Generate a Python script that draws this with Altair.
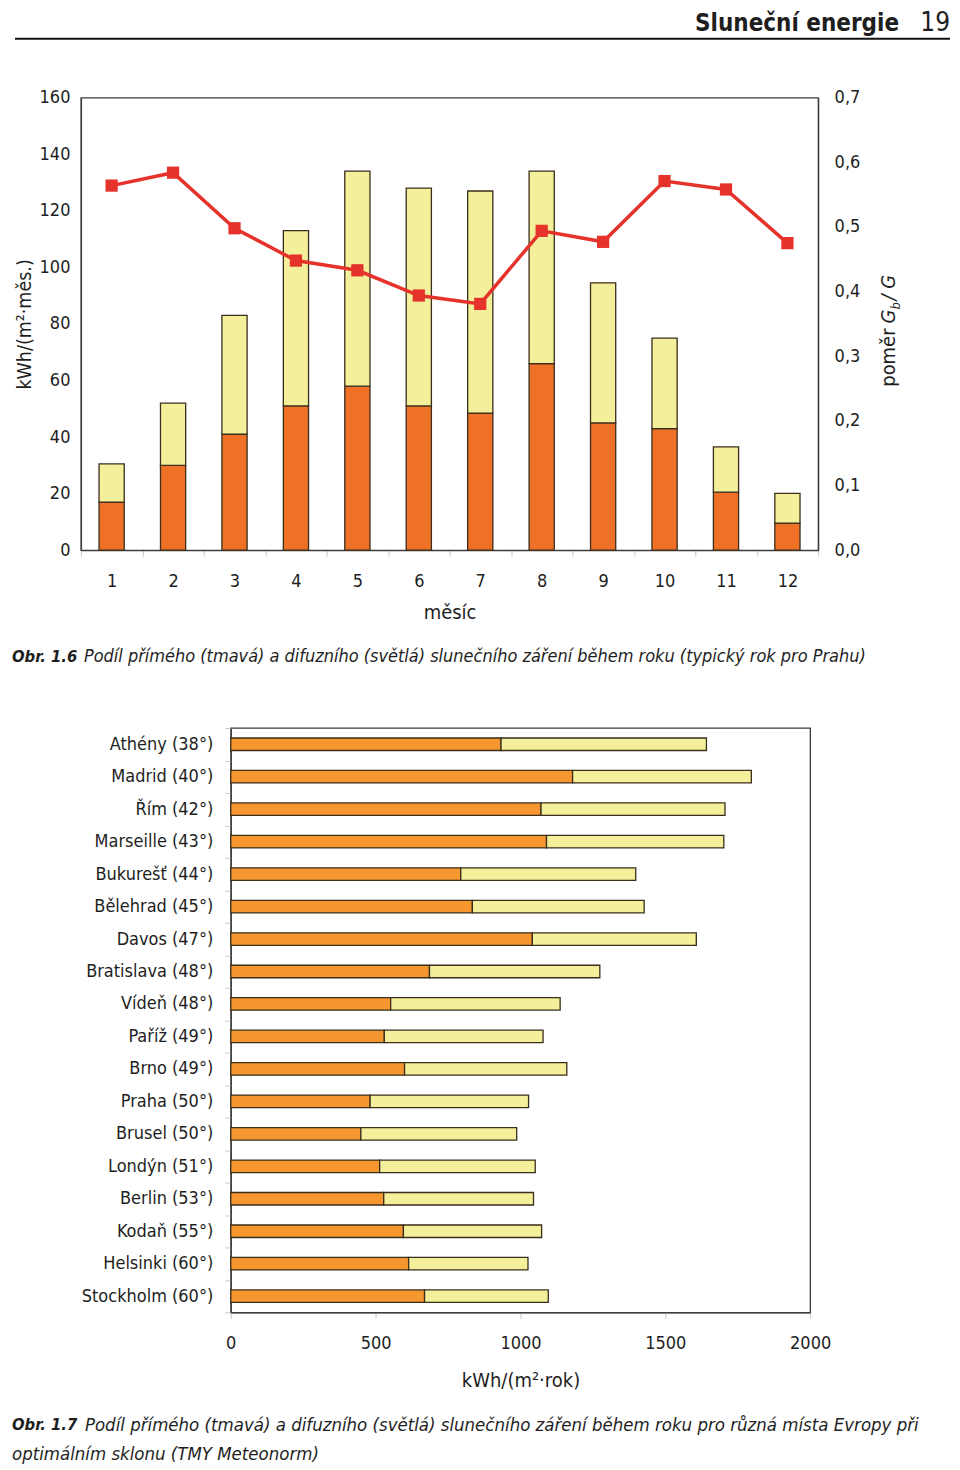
import altair as alt
import pandas as pd

# ---------- data: Obr. 1.6 (typical year, Prague) ----------
months = [1, 2, 3, 4, 5, 6, 7, 8, 9, 10, 11, 12]
direct_month = [17.0, 30.0, 41.0, 51.0, 58.0, 51.0, 48.5, 66.0, 45.0, 43.0, 20.5, 9.6]
diffuse_month = [13.5, 22.0, 42.0, 62.0, 76.0, 77.0, 78.5, 68.0, 49.5, 32.0, 16.0, 10.5]
ratio_month = [0.564, 0.584, 0.498, 0.448, 0.433, 0.394, 0.381, 0.494, 0.477, 0.571, 0.558, 0.475]
left_ticks = [0, 20, 40, 60, 80, 100, 120, 140, 160]
right_ticks = [0.0, 0.1, 0.2, 0.3, 0.4, 0.5, 0.6, 0.7]

# ---------- data: Obr. 1.7 (European cities) ----------
cities = ["Athény (38°)", "Madrid (40°)", "Řím (42°)", "Marseille (43°)", "Bukurešť (44°)",
          "Bělehrad (45°)", "Davos (47°)", "Bratislava (48°)", "Vídeň (48°)", "Paříž (49°)",
          "Brno (49°)", "Praha (50°)", "Brusel (50°)", "Londýn (51°)", "Berlin (53°)",
          "Kodaň (55°)", "Helsinki (60°)", "Stockholm (60°)"]
direct_city = [933, 1180, 1071, 1090, 794, 834, 1041, 686, 552, 530, 600, 481, 449, 514, 528, 596, 614, 669]
diffuse_city = [709, 617, 635, 612, 604, 593, 566, 588, 585, 548, 560, 547, 538, 537, 517, 477, 412, 427]
bottom_ticks = [0, 500, 1000, 1500, 2000]

FONT = "DejaVu Sans Condensed, Liberation Sans, sans-serif"
ORANGE_TOP = "#EF7027"
ORANGE_BOT = "#F5962F"
YELLOW = "#F4EF9B"
RED = "#E5322B"
EDGE = "#3a2e1c"
TXT = "#1e1e1e"

top_df = pd.DataFrame({"month": months, "direct": direct_month,
                       "diffuse": diffuse_month, "ratio": ratio_month})
top_df["total"] = top_df["direct"] + top_df["diffuse"]

bot_df = pd.DataFrame({"city": cities, "direct": direct_city, "diffuse": diffuse_city})
bot_df["total"] = bot_df["direct"] + bot_df["diffuse"]

one = pd.DataFrame({"k": [0]})


def txt(text, x, y, size=20, weight="normal", style="normal", align="left",
        baseline="middle", angle=0, color=TXT):
    kw = dict(text=text, fontSize=size, fontWeight=weight, fontStyle=style, align=align,
              baseline=baseline, font=FONT, color=color)
    if angle:
        kw["angle"] = angle
    return alt.Chart(one).mark_text(**kw).encode(x=alt.value(x), y=alt.value(y))


# ---------------- top chart ----------------
TW, TH = 738, 453
x_top = alt.X("month:O", scale=alt.Scale(paddingInner=0, paddingOuter=0),
              axis=alt.Axis(title="měsíc", labelAngle=0, tickBand="extent", tickSize=6,
                            tickColor="#c8c8c8", labelPadding=16, titlePadding=12,
                            titleFontWeight="normal", titleFontSize=20))


def y_left(field):
    return alt.Y(f"{field}:Q", scale=alt.Scale(domain=[0, 160], nice=False),
                 axis=alt.Axis(values=left_ticks, title="kWh/(m²·měs.)", ticks=False, grid=False,
                               labelPadding=11, titlePadding=5, titleFontWeight="normal",
                               titleFontSize=19.5))


bar_direct = alt.Chart(top_df).mark_bar(
    width=alt.RelativeBandSize(0.41), color=ORANGE_TOP, stroke=EDGE, strokeWidth=1.3
).encode(x=x_top, y=y_left("direct"))
bar_diffuse = alt.Chart(top_df).mark_bar(
    width=alt.RelativeBandSize(0.41), color=YELLOW, stroke=EDGE, strokeWidth=1.3
).encode(x=x_top, y=y_left("total"), y2="direct")
bars = alt.layer(bar_direct, bar_diffuse)

y_right = alt.Y("ratio:Q", scale=alt.Scale(domain=[0, 0.7], nice=False),
                axis=alt.Axis(orient="right", values=right_ticks, title=None, ticks=False,
                              grid=False, labelPadding=16,
                              labelExpr="replace(format(datum.value, '.1f'), '.', ',')"))
ratio_line = alt.Chart(top_df).mark_line(color=RED, strokeWidth=3.5).encode(x=x_top, y=y_right)
ratio_pts = alt.Chart(top_df).mark_square(color=RED, size=150, opacity=1).encode(x=x_top, y=y_right)
lines = alt.layer(ratio_line, ratio_pts)

header_rule = alt.Chart(one).mark_rule(color="#111111", strokeWidth=2).encode(
    x=alt.value(-66), x2=alt.value(870), y=alt.value(-59))

top_texts = [
    txt("Sluneční energie", 819, -67, size=24, weight="bold", align="right", baseline="alphabetic"),
    txt("19", 870, -67, size=26, align="right", baseline="alphabetic"),
    txt("Obr. 1.6", -69, 560, size=16.5, weight="bold", style="italic"),
    txt("Podíl přímého (tmavá) a difuzního (světlá) slunečního záření během roku (typický rok pro Prahu)",
        3, 560, size=18, style="italic"),
    # right axis title: poměr G_b / G (rotated, reading upwards)
    txt("poměr", 815, 231, size=20, align="right", baseline="alphabetic", angle=270),
    txt("G", 815, 226, size=20, style="italic", align="left", baseline="alphabetic", angle=270),
    txt("b", 820, 212, size=13, style="italic", align="left", baseline="alphabetic", angle=270),
    txt("/ G", 815, 203, size=20, style="italic", align="left", baseline="alphabetic", angle=270),
]

top_chart = alt.layer(bars, lines, header_rule, *top_texts).resolve_scale(
    y="independent").properties(width=TW, height=TH)

# ---------------- bottom chart ----------------
BW, BH = 580, 585
y_bot = alt.Y("city:N", sort=cities, scale=alt.Scale(paddingInner=0, paddingOuter=0),
              axis=alt.Axis(title=None, tickBand="extent", tickSize=6, tickColor="#c8c8c8",
                            labelPadding=12, labelFontSize=18))


def x_bot(field):
    return alt.X(f"{field}:Q", scale=alt.Scale(domain=[0, 2000], nice=False),
                 axis=alt.Axis(values=bottom_ticks, format="d", title="kWh/(m²·rok)", grid=False,
                               labelFlush=False, tickSize=6, tickColor="#c8c8c8", labelPadding=16,
                               titlePadding=18, titleFontWeight="normal", titleFontSize=20))


cb_direct = alt.Chart(bot_df).mark_bar(
    height=alt.RelativeBandSize(0.385), color=ORANGE_BOT, stroke=EDGE, strokeWidth=1.3
).encode(y=y_bot, x=x_bot("direct"))
cb_diffuse = alt.Chart(bot_df).mark_bar(
    height=alt.RelativeBandSize(0.385), color=YELLOW, stroke=EDGE, strokeWidth=1.3
).encode(y=y_bot, x=x_bot("total"), x2="direct")

bot_texts = [
    txt("Obr. 1.7", -219, 698, size=16.5, weight="bold", style="italic"),
    txt("Podíl přímého (tmavá) a difuzního (světlá) slunečního záření během roku pro různá místa Evropy při",
        -146, 698, size=18.5, style="italic"),
    txt("optimálním sklonu (TMY Meteonorm)", -219, 727, size=18.5, style="italic"),
]

bot_chart = alt.layer(cb_direct, cb_diffuse, *bot_texts).properties(width=BW, height=BH)


def spacer():
    return alt.Chart(one, view=alt.ViewBackground(stroke="transparent")).mark_text(
        text=" ", opacity=0).encode(x=alt.value(0), y=alt.value(0)).properties(width=1, height=1)


chart = alt.vconcat(
    alt.hconcat(spacer(), top_chart, spacing=0),
    alt.hconcat(spacer(), bot_chart, spacing=0),
    spacing=51,
).properties(padding=0).configure(font=FONT).configure_view(
    stroke="#3c3c3c", strokeWidth=1.3
).configure_axis(
    labelFont=FONT, titleFont=FONT, labelFontSize=18, labelColor=TXT, titleColor=TXT,
    domainColor="#3c3c3c", domainWidth=1.3
)

chart.save("out.html", embed_options={"renderer": "svg", "actions": False})
